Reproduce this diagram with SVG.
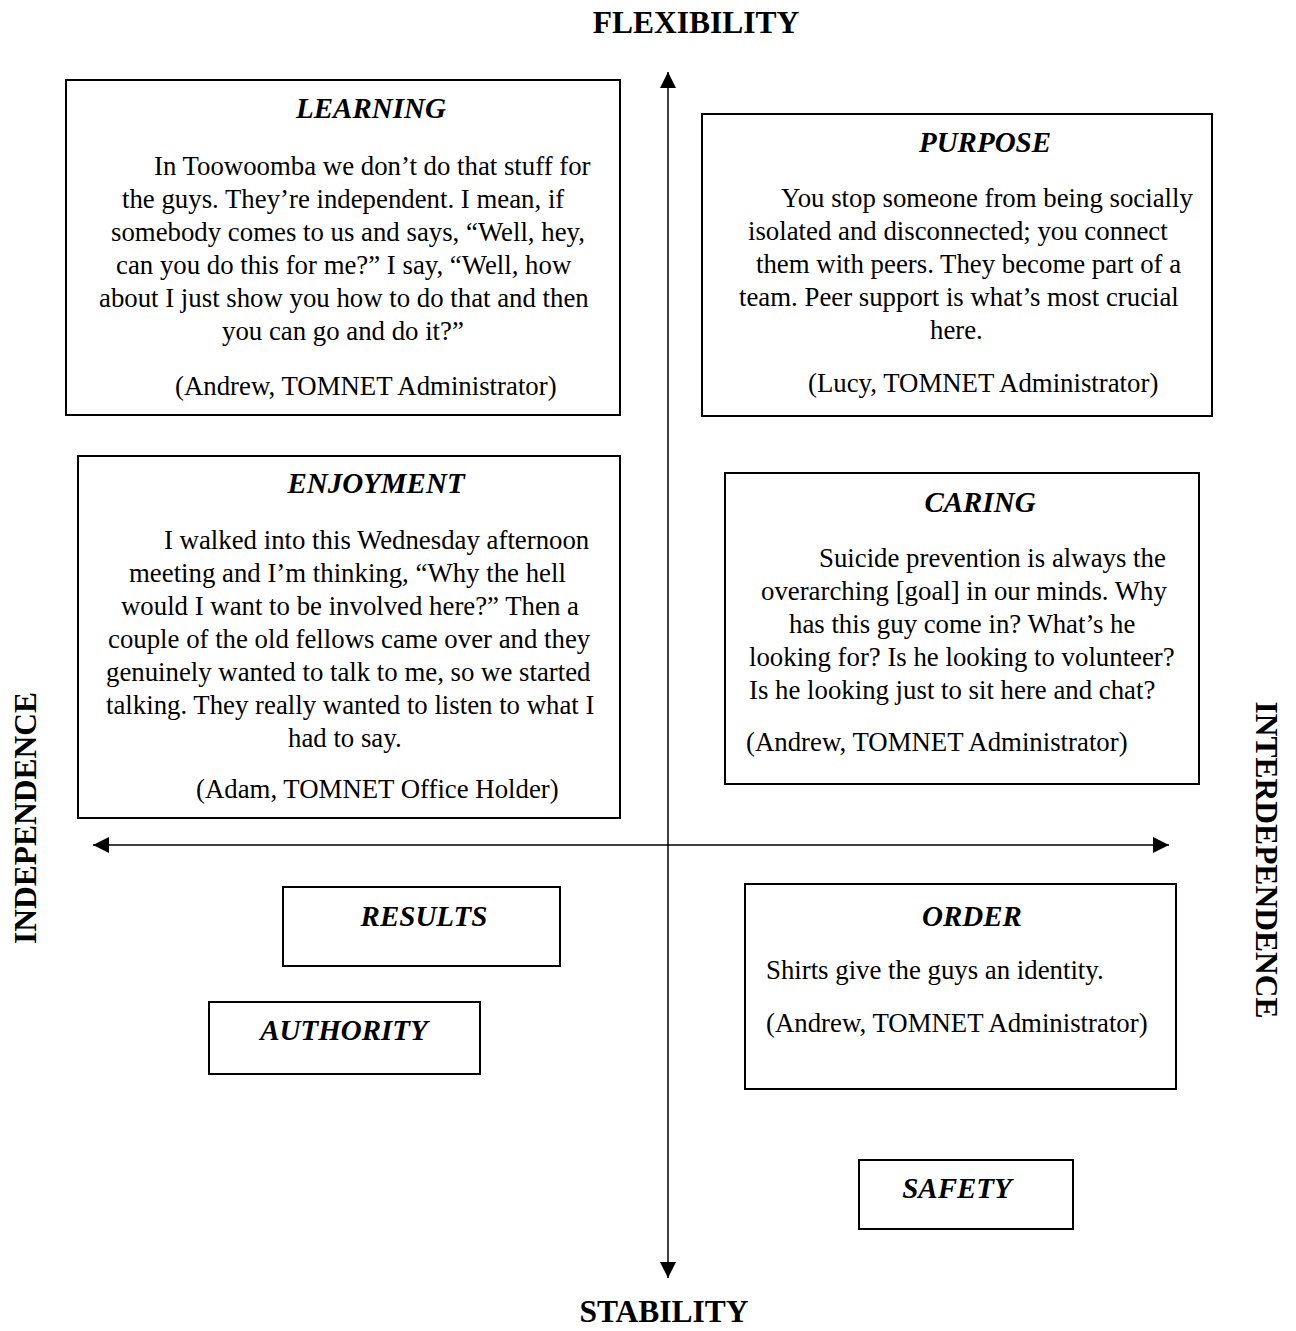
<svg xmlns="http://www.w3.org/2000/svg" width="1296" height="1331" viewBox="0 0 1296 1331">
  <style>
    .box { fill: #ffffff; stroke: #000000; stroke-width: 2; }
    .title { font-family: "Liberation Serif", "Times New Roman", serif; font-size: 29px; font-weight: bold; font-style: italic; text-anchor: middle; fill: #000; }
    .body { font-family: "Liberation Serif", "Times New Roman", serif; font-size: 26.8px; fill: #000; }
    .axis-label { font-family: "Liberation Serif", "Times New Roman", serif; font-size: 31.5px; font-weight: bold; text-anchor: middle; fill: #000; }
    .axis { stroke: #000; stroke-width: 1.5; fill: none; }
  </style>
  <defs>
    <marker id="arrow" viewBox="0 0 16 16" refX="16" refY="8" markerWidth="16" markerHeight="16" markerUnits="userSpaceOnUse" orient="auto-start-reverse">
      <path d="M0,0 L16,8 L0,16 Z" fill="#000"/>
    </marker>
  </defs>
  <rect width="1296" height="1331" fill="#ffffff"/>

  <!-- axes -->
  <g id="connectors">
    <line class="axis" x1="668" y1="72" x2="668" y2="1278" marker-start="url(#arrow)" marker-end="url(#arrow)"/>
    <line class="axis" x1="93" y1="845" x2="1169" y2="845" marker-start="url(#arrow)" marker-end="url(#arrow)"/>
  </g>

  <!-- axis labels -->
  <g id="axis-labels">
    <text class="axis-label" x="696" y="33">FLEXIBILITY</text>
    <text class="axis-label" x="664" y="1322">STABILITY</text>
    <text class="axis-label" transform="translate(36,818) rotate(-90)">INDEPENDENCE</text>
    <text class="axis-label" transform="translate(1256,860) rotate(90)">INTERDEPENDENCE</text>
  </g>

  <g id="learning">
    <rect class="box" x="66" y="80" width="554" height="335"/>
    <text class="title" x="371" y="118">LEARNING</text>
    <text class="body" x="154" y="175">In Toowoomba we don’t do that stuff for</text>
    <text class="body" x="122" y="208">the guys. They’re independent. I mean, if</text>
    <text class="body" x="111" y="241">somebody comes to us and says, “Well, hey,</text>
    <text class="body" x="116" y="274">can you do this for me?” I say, “Well, how</text>
    <text class="body" x="99" y="307">about I just show you how to do that and then</text>
    <text class="body" x="222" y="340">you can go and do it?”</text>
    <text class="body" x="175" y="395">(Andrew, TOMNET Administrator)</text>
  </g>

  <g id="purpose">
    <rect class="box" x="702" y="114" width="510" height="302"/>
    <text class="title" x="985" y="152">PURPOSE</text>
    <text class="body" x="781" y="207">You stop someone from being socially</text>
    <text class="body" x="748" y="240">isolated and disconnected; you connect</text>
    <text class="body" x="756" y="273">them with peers. They become part of a</text>
    <text class="body" x="739" y="306">team. Peer support is what’s most crucial</text>
    <text class="body" x="930" y="339">here.</text>
    <text class="body" x="808" y="392">(Lucy, TOMNET Administrator)</text>
  </g>

  <g id="enjoyment">
    <rect class="box" x="78" y="456" width="542" height="362"/>
    <text class="title" x="376" y="493">ENJOYMENT</text>
    <text class="body" x="164" y="549">I walked into this Wednesday afternoon</text>
    <text class="body" x="129" y="582">meeting and I’m thinking, “Why the hell</text>
    <text class="body" x="121" y="615">would I want to be involved here?” Then a</text>
    <text class="body" x="108" y="648">couple of the old fellows came over and they</text>
    <text class="body" x="106" y="681">genuinely wanted to talk to me, so we started</text>
    <text class="body" x="106" y="714">talking. They really wanted to listen to what I</text>
    <text class="body" x="288" y="747">had to say.</text>
    <text class="body" x="196" y="798">(Adam, TOMNET Office Holder)</text>
  </g>

  <g id="caring">
    <rect class="box" x="725" y="473" width="474" height="311"/>
    <text class="title" x="980" y="512">CARING</text>
    <text class="body" x="819" y="567">Suicide prevention is always the</text>
    <text class="body" x="761" y="600">overarching [goal] in our minds. Why</text>
    <text class="body" x="789" y="633">has this guy come in? What’s he</text>
    <text class="body" x="749" y="666">looking for? Is he looking to volunteer?</text>
    <text class="body" x="749" y="699">Is he looking just to sit here and chat?</text>
    <text class="body" x="746" y="751">(Andrew, TOMNET Administrator)</text>
  </g>

  <g id="results">
    <rect class="box" x="283" y="887" width="277" height="79"/>
    <text class="title" x="424" y="926">RESULTS</text>
  </g>

  <g id="authority">
    <rect class="box" x="209" y="1002" width="271" height="72"/>
    <text class="title" x="344" y="1040">AUTHORITY</text>
  </g>

  <g id="order">
    <rect class="box" x="745" y="884" width="431" height="205"/>
    <text class="title" x="972" y="926">ORDER</text>
    <text class="body" x="766" y="979">Shirts give the guys an identity.</text>
    <text class="body" x="766" y="1032">(Andrew, TOMNET Administrator)</text>
  </g>

  <g id="safety">
    <rect class="box" x="859" y="1160" width="214" height="69"/>
    <text class="title" x="957" y="1198">SAFETY</text>
  </g>
</svg>
